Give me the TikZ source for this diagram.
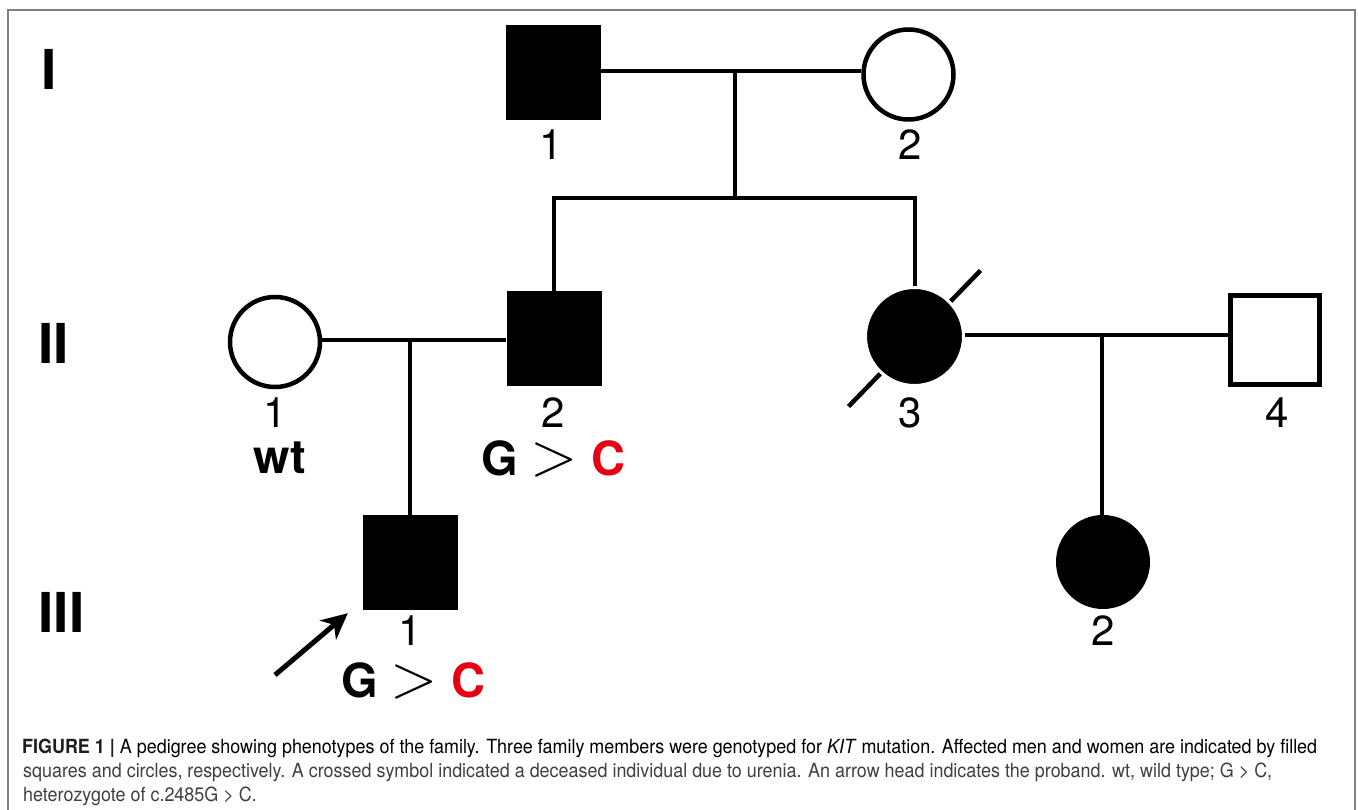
\RequirePackage{fix-cm}
\documentclass[tikz,border=0pt]{standalone}
\usepackage{fontspec}
\usepackage{graphicx}
\usetikzlibrary{arrows.meta}
\newfontfamily\hv{TeX Gyre Heros}
\definecolor{gcred}{RGB}{230,0,18}
\definecolor{framegray}{RGB}{128,128,128}
\definecolor{captext}{RGB}{64,64,64}
\definecolor{capbold}{RGB}{30,30,30}
\newsavebox\capboxA
\newlength\capw
\newcommand\capfont{\hv\fontsize{19.5}{24}\selectfont}
\newcommand\gcmark{\makebox[49pt][l]{G}\makebox[61pt][l]{\fontsize{62}{70}\selectfont$>$}\textcolor{gcred}{C}}
\begin{document}
\sbox\capboxA{\capfont{\color{capbold}\bfseries FIGURE 1 |} A pedigree showing phenotypes of the family. Three family members were genotyped for \textit{KIT} mutation. Affected men and women are indicated by filled}%
\setlength\capw{\wd\capboxA}%
\pgfmathsetmacro\capsx{1295/\capw}%
\begin{tikzpicture}[x=1pt,y=-1pt,
  conn/.style={line width=4pt},
  malefill/.style={rectangle, fill=black, minimum size=95pt, inner sep=0pt},
  maleopen/.style={rectangle, draw=black, line width=5pt, minimum size=89pt, inner sep=0pt},
  femfill/.style={circle, fill=black, minimum size=94pt, inner sep=0pt},
  femopen/.style={circle, draw=black, line width=4.5pt, minimum size=90pt, inner sep=0pt},
  femdead/.style={circle, fill=black, draw=white, line width=3pt, minimum size=98pt, inner sep=0pt},
  num/.style={anchor=base, inner sep=0pt, text height=30pt, text depth=0pt, font=\hv\fontsize{42}{48}\selectfont},
  gen/.style={anchor=base west, inner sep=0pt, font=\hv\bfseries\fontsize{55}{60}\selectfont},
  geno/.style={anchor=base west, inner sep=0pt, text height=33pt, text depth=1pt, font=\hv\bfseries\fontsize{47}{52}\selectfont},
  capline/.style={anchor=base west, inner sep=0pt, text=captext}
]
\useasboundingbox (0,0) rectangle (1358,810);
\fill[white] (0,0) rectangle (1358,810);
% frame
\draw[framegray, line width=2pt] (8,810) -- (8,10) -- (1355,10) -- (1355,810);

% generation labels
\node[gen] (genI) at (41.5,90) {I};
\node[gen] (genII) at (38.5,363) {II};
\node[gen] (genIII) at (38.5,632) {III};

% individuals
\node[malefill] (I1) at (553.5,73) {};
\node[femopen] (I2) at (908.5,74.5) {};
\node[femopen] (II1) at (275,342) {};
\node[malefill] (II2) at (554,339) {};
\coordinate (c3) at (914.5,336.5);
\draw[line width=4.5pt] ([shift={(-66,70)}]c3) -- ([shift={(66,-66)}]c3);
\node[femdead] (II3) at (c3) {};
\node[maleopen] (II4) at (1275,340) {};
\node[malefill] (III1) at (410.5,562.5) {};
\node[femfill] (III2) at (1103,562) {};

% connectors
\coordinate (m1) at (735,71);
\coordinate (s1) at (735,198);
\draw[conn] (I1.east |- m1) -- (I2.west |- m1);
\draw[conn] (m1) -- (s1);
\draw[conn] (II2.north) -- (II2.north |- s1) -- (II3.north |- s1) -- (II3.north);
\coordinate (m2) at (410,340);
\draw[conn] (II1.east |- m2) -- (II2.west |- m2);
\draw[conn] (m2) -- (m2 |- III1.north);
\coordinate (m3) at (1102,335);
\draw[conn] (II3.east |- m3) -- (II4.west |- m3);
\draw[conn] (m3) -- (m3 |- III2.north);

% proband arrow
\coordinate (atail) at (275,675);
\draw[line width=5pt, -{Stealth[length=26pt, width=25pt, inset=8pt]}] (atail) -- ([shift={(-15,3)}]III1.south west);

% numbers
\node[num] (n11) at (551,160) {1};
\node[num] (n12) at (910,160) {2};
\node[num] (n21) at (275,428) {1};
\node[num] (n22) at (553,428) {2};
\node[num] (n23) at (910,428) {3};
\node[num] (n24) at (1277,428) {4};
\node[num] (n31) at (410,645) {1};
\node[num] (n32) at (1103,645) {2};

% genotypes
\node[anchor=base, inner sep=0pt, text height=31pt, text depth=0pt, font=\hv\bfseries\fontsize{47}{52}\selectfont] (wt) at (280,473) {wt};
\node[geno] (gc22) at (481,475) {\gcmark};
\node[geno] (gc31) at (341,697) {\gcmark};

% caption
\node[capline] (cap1) at (22,753) {\scalebox{\capsx}[1]{\usebox\capboxA}};
\node[capline] (cap2) at (23,777) {\scalebox{\capsx}[1]{\capfont squares and circles, respectively. A crossed symbol indicated a deceased individual due to urenia. An arrow head indicates the proband. wt, wild type; G > C,}};
\node[capline] (cap3) at (23,801) {\scalebox{\capsx}[1]{\capfont heterozygote of c.2485G > C.}};
\end{tikzpicture}
\end{document}
